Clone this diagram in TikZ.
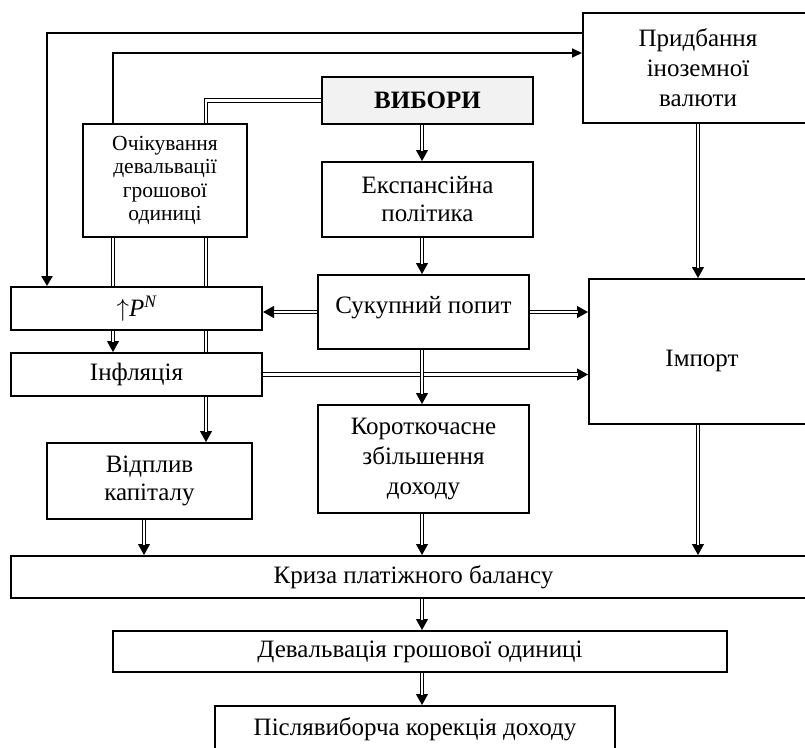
\documentclass[tikz,border=0pt]{standalone}
\usepackage{fontspec}
\setmainfont{Liberation Serif}
\usetikzlibrary{arrows.meta,calc}
\pgfdeclarelayer{bg}
\pgfsetlayers{bg,main}
\tikzset{
  box/.style={draw, line width=2pt, fill=white, inner sep=0pt, align=center,
    font=\fontsize{25}{30}\selectfont},
  dline/.style={double, double distance=2.2pt, line width=1.3pt},
  dtip/.style={line width=1pt, -{Triangle[length=11pt,width=12pt]}},
  thickline/.style={line width=2.7pt, -{Triangle[length=10pt,width=11pt]}},
  thinline/.style={line width=1.7pt, -{Triangle[length=10pt,width=9pt]}}
}
\newcommand\darr[1]{\draw[dtip] #1; \draw[dline, shorten >=10.5pt] #1;}
\begin{document}
\begin{tikzpicture}[x=1pt,y=-1pt]
\useasboundingbox (0,0) rectangle (805,747);
\clip (0,0) rectangle (805,747);
% nodes
\node[box, minimum width=230, minimum height=110] (pridb) at (698,68) {Придбання\\іноземної\\валюти};
\node[box, minimum width=211, minimum height=47, fill=black!5, font=\fontsize{25}{30}\selectfont\bfseries] (vybory) at (427.5,100.5) {ВИБОРИ};
\node[box, minimum width=164, minimum height=113, font=\fontsize{21.5}{23.5}\selectfont] (och) at (165,180.5) {Очікування\\девальвації\\грошової\\одиниці};
\node[box, minimum width=211, minimum height=75, font=\fontsize{25}{28}\selectfont] (ekspan) at (427.5,199.5) {Експансійна\\політика};
\node[box, minimum width=251, minimum height=43] (pn) at (136.5,308.5) {$\uparrow$\textit{P\textsuperscript{N}}};
\node[box, minimum width=251, minimum height=43] (infl) at (136.5,374.5) {Інфляція};
\node[box, minimum width=205, minimum height=76, font=\fontsize{25}{28}\selectfont] (vidplyv) at (149.5,481) {Відплив\\капіталу};
\node[box, minimum width=211, minimum height=74, text height=17pt, text depth=15pt] (sukup) at (423.5,312) {Сукупний попит};
\node[box, minimum width=226, minimum height=145, text height=29pt, text depth=0pt] (import) at (702,351.5) {Імпорт};
\node[box, minimum width=211, minimum height=108] (korotk) at (423.5,459) {Короткочасне\\збільшення\\доходу};
\node[box, minimum width=805, minimum height=42] (kryza) at (413.5,577) {Криза платіжного балансу};
\node[box, minimum width=614, minimum height=41] (deval) at (420,651.5) {Девальвація грошової одиниці};
\node[box, minimum width=400, minimum height=46] (pisl) at (415,729) {Післявиборча корекція доходу};
% helper coordinates
\coordinate (cx) at (422,0);
\coordinate (xa) at (113,0);
\coordinate (xb) at (206,0);
\coordinate (xt) at (47,0);
\coordinate (xv) at (144,0);
\coordinate (xi) at (698,0);
\coordinate (ya) at (0,33);
\coordinate (yb) at (0,53);
% connectors
\begin{pgfonlayer}{bg}
\draw[thickline] (pridb.west |- ya) -| (pn.north -| xt);
\draw[thinline] (och.north -| xa) |- (pridb.west |- yb);
\draw[dline] (vybory.west) -| (och.north -| xb);
\darr{(vybory.south -| cx) -- (ekspan.north -| cx)}
\darr{(ekspan.south -| cx) -- (sukup.north -| cx)}
\darr{(pridb.south -| xi) -- (import.north -| xi)}
\darr{(och.south -| xa) -- (infl.north -| xa)}
\darr{(och.south -| xb) -- (vidplyv.north -| xb)}
\darr{(sukup.west) -- (sukup.west -| pn.east)}
\darr{(sukup.east) -- (sukup.east -| import.west)}
\darr{(infl.east) -- (infl.east -| import.west)}
\darr{(sukup.south -| cx) -- (korotk.north -| cx)}
\darr{(vidplyv.south -| xv) -- (kryza.north -| xv)}
\darr{(korotk.south -| cx) -- (kryza.north -| cx)}
\darr{(import.south -| xi) -- (kryza.north -| xi)}
\darr{(kryza.south -| cx) -- (deval.north -| cx)}
\darr{(deval.south -| cx) -- (pisl.north -| cx)}
\end{pgfonlayer}
\end{tikzpicture}
\end{document}
